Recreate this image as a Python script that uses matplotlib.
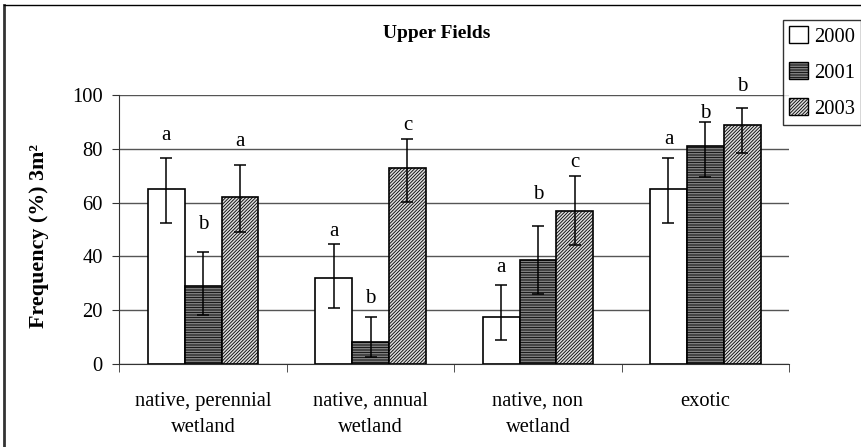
import numpy as np
import matplotlib
matplotlib.use("Agg")
import matplotlib.pyplot as plt
from matplotlib.lines import Line2D
from matplotlib.patches import Patch

plt.rcParams["font.family"] = ["Liberation Serif", "DejaVu Serif"]
plt.rcParams["hatch.linewidth"] = 0.6

# ── Data ──────────────────────────────────────────────────────────────────────
categories = ["native, perennial\nwetland", "native, annual\nwetland",
              "native, non\nwetland", "exotic"]
years = ["2000", "2001", "2003"]

freq_2000 = [65, 32, 17.6, 65]
freq_2001 = [29, 8, 38.5, 81]
freq_2003 = [62, 73, 57, 89]

# error bar extents (up, down)
err_up_2000 = [11.7, 12.7, 11.6, 11.7]
err_dn_2000 = [12.7, 11.2, 8.6, 12.7]
err_up_2001 = [12.7, 9.6, 12.8, 9.1]
err_dn_2001 = [10.8, 5.3, 12.4, 11.6]
err_up_2003 = [12.0, 10.5, 12.8, 6.2]
err_dn_2003 = [13.0, 12.9, 12.8, 10.7]

letters_2000 = ["a", "a", "a", "a"]
letters_2001 = ["b", "b", "b", "b"]
letters_2003 = ["a", "c", "c", "b"]
letter_y_2000 = [85.1, 49.2, 35.7, 83.3]
letter_y_2001 = [51.7, 24.4, 63.1, 93.2]
letter_y_2003 = [82.7, 88.8, 75.0, 103.1]

# ── Styles ────────────────────────────────────────────────────────────────────
series = [
    (freq_2000, err_up_2000, err_dn_2000, letters_2000, letter_y_2000,
     dict(facecolor="white", hatch=None)),
    (freq_2001, err_up_2001, err_dn_2001, letters_2001, letter_y_2001,
     dict(facecolor="#a8a8a8", hatch="----------")),
    (freq_2003, err_up_2003, err_dn_2003, letters_2003, letter_y_2003,
     dict(facecolor="#dcdcdc", hatch="//////////")),
]

W, H = 862, 447
fig = plt.figure(figsize=(W / 100, H / 100), dpi=100)
ax = fig.add_axes([119.5 / W, 1 - 364 / H, (789 - 119.5) / W, (364 - 95) / H])

x = np.arange(len(categories))
bw = 0.22
offsets = [-bw, 0, bw]

handles = []
for (vals, eu, ed, lets, ly, st), off, yr in zip(series, offsets, years):
    ax.bar(x + off, vals, bw, facecolor=st["facecolor"], hatch=st["hatch"],
           edgecolor="black", linewidth=1.2, zorder=3)
    ax.errorbar(x + off, vals, yerr=[ed, eu], fmt="none", ecolor="black",
                elinewidth=1.1, capsize=4.5, capthick=1.1, zorder=4)
    for xi, t, yy in zip(x + off, lets, ly):
        ax.text(xi, yy, t, ha="center", va="center", fontsize=15, zorder=5)
    handles.append(Patch(facecolor=st["facecolor"], hatch=st["hatch"],
                         edgecolor="black", linewidth=1.0, label=yr))

ax.set_xlim(-0.5, len(categories) - 0.5)
ax.set_ylim(0, 100)
ax.set_yticks(np.arange(0, 101, 20))
ax.yaxis.grid(True, color="#555555", lw=1.0, zorder=0)
ax.set_axisbelow(True)
for s in ["top", "right"]:
    ax.spines[s].set_visible(False)
ax.spines["left"].set_color("#333333")
ax.spines["bottom"].set_color("#333333")

ax.set_xticks(x)
ax.set_xticklabels(categories, fontsize=14.8, linespacing=1.55)
ax.tick_params(axis="x", length=0, pad=20)
ax.set_xticks(np.arange(-0.5, len(categories), 1.0), minor=True)
ax.tick_params(axis="x", which="minor", length=6, color="#333333")
ax.tick_params(axis="y", length=5, labelsize=14.8, pad=7, color="#333333")

ax.set_ylabel("Frequency (%) 3m²", fontsize=15.8, fontweight="bold")
ax.yaxis.set_label_coords(-0.105, 0.475)

fig.text(437 / W, 1 - 33 / H, "Upper Fields", ha="center", va="center",
         fontsize=14, fontweight="bold")

leg = fig.legend(handles=handles, loc="upper left",
                 bbox_to_anchor=(783 / W, 1 - 20 / H), fontsize=14.8,
                 frameon=True, fancybox=False, edgecolor="black",
                 handlelength=0.9, handleheight=0.9, handletextpad=0.3,
                 labelspacing=0.75, borderpad=0.3, borderaxespad=0)
leg.get_frame().set_linewidth(1.0)

# outer chart border (left and top)
fig.add_artist(Line2D([4 / W, 4 / W], [0, 1 - 5 / H], color="#333333", lw=2.0,
                      transform=fig.transFigure))
fig.add_artist(Line2D([4 / W, 1], [1 - 5 / H, 1 - 5 / H], color="black", lw=1.0,
                      transform=fig.transFigure))

fig.savefig("out.png", dpi=100)
